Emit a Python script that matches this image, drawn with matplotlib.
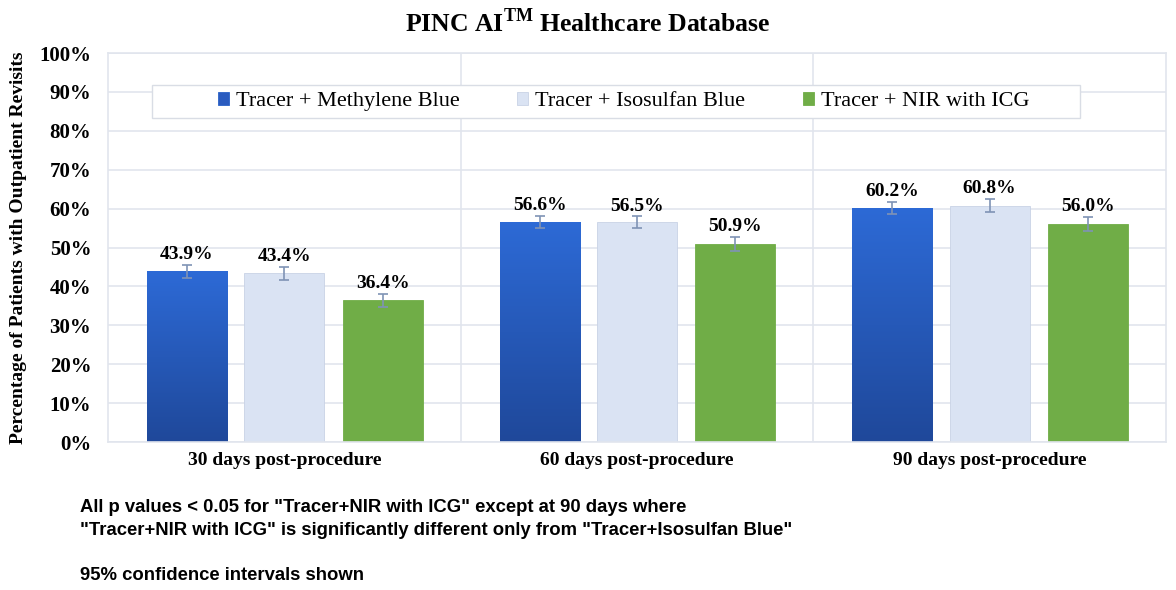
import matplotlib.pyplot as plt
import numpy as np
from matplotlib.patches import Rectangle
from matplotlib.ticker import FixedLocator, PercentFormatter

plt.rcParams['font.family'] = ['Liberation Serif', 'DejaVu Serif']
plt.rcParams['mathtext.fontset'] = 'custom'
plt.rcParams['mathtext.rm'] = 'Liberation Serif'
plt.rcParams['mathtext.bf'] = 'Liberation Serif:bold'

categories = ["30 days post-procedure", "60 days post-procedure", "90 days post-procedure"]
series = ["Tracer + Methylene Blue", "Tracer + Isosulfan Blue", "Tracer + NIR with ICG"]
methylene = [43.9, 56.6, 60.2]
isosulfan = [43.4, 56.5, 60.8]
nir_icg = [36.4, 50.9, 56.0]
methylene_ci = [1.6, 1.6, 1.6]
isosulfan_ci = [1.7, 1.5, 1.6]
nir_icg_ci = [1.7, 1.8, 1.8]

colors = ["#2A63C8", "#DAE3F3", "#70AD47"]
grid_c = "#E1E5ED"

fig = plt.figure(figsize=(11.76, 5.9), dpi=100)
ax = fig.add_axes([0.0918, 0.2508, 0.8997, 0.6592])

x = np.arange(len(categories))
width = 0.227
offsets = [-0.276, 0.0, 0.279]
values = [methylene, isosulfan, nir_icg]
errs = [methylene_ci, isosulfan_ci, nir_icg_ci]

ax.set_xlim(-0.5, 2.5)
ax.set_ylim(0, 100)

for vals, err, off, col, name in zip(values, errs, offsets, colors, series):
    bars = ax.bar(x + off, vals, width, color=col, label=name, zorder=2,
                  edgecolor="#C9D3E6" if col == "#DAE3F3" else col, linewidth=0.6)
    ax.errorbar(x + off, vals, yerr=err, fmt='none', ecolor="#7F93B5",
                elinewidth=1.2, capsize=3.5, capthick=1.2, zorder=3)
    for b, v, e in zip(bars, vals, err):
        ax.text(b.get_x() + b.get_width() / 2, v + e + 0.5, f"{v:.1f}%",
                ha='center', va='bottom', fontsize=14, fontweight='bold')
    if name == series[0]:
        # vertical shading on the methylene blue bars
        grad = np.linspace(0, 1, 256).reshape(-1, 1)
        cmap = plt.matplotlib.colors.LinearSegmentedColormap.from_list(
            "mb", ["#1F489A", "#2D6AD6"])
        for b in bars:
            b.set_facecolor('none')
            im = ax.imshow(grad, cmap=cmap, origin='lower', aspect='auto',
                           extent=[b.get_x(), b.get_x() + b.get_width(), 0, b.get_height()],
                           zorder=2)
            im.set_clip_path(b)

ax.set_xlim(-0.5, 2.5)
ax.set_ylim(0, 100)
ax.set_xticks(x)
ax.set_xticklabels(categories, fontsize=14, fontweight='bold')
ax.xaxis.set_minor_locator(FixedLocator([0.5, 1.5]))
ax.set_yticks(np.arange(0, 101, 10))
ax.yaxis.set_major_formatter(PercentFormatter(decimals=0))
for lab in ax.get_yticklabels():
    lab.set_fontweight('bold')
    lab.set_fontsize(15)
ax.tick_params(axis='both', which='both', length=0)
ax.tick_params(axis='y', pad=12)
ax.tick_params(axis='x', pad=7)
ax.grid(axis='y', color=grid_c, linewidth=1.2, zorder=0)
ax.grid(axis='x', which='minor', color=grid_c, linewidth=1.2, zorder=0)
for s in ax.spines.values():
    s.set_color(grid_c)
    s.set_linewidth(1.2)

ax.set_ylabel("Percentage of Patients with Outpatient Revisits", fontsize=14,
              fontweight='bold', labelpad=9)

# legend box is wider than its entries, so draw the frame separately
ax.add_patch(Rectangle((0.0416, 0.833), 0.877, 0.085, transform=ax.transAxes,
                       facecolor='white', edgecolor="#D9DDE5", linewidth=1.0, zorder=4))
leg = ax.legend(loc='center left', bbox_to_anchor=(0.104, 0.8755), ncol=3,
                fontsize=16, frameon=False,
                handlelength=0.5, handleheight=0.5, handletextpad=0.3,
                columnspacing=2.6, borderpad=0, borderaxespad=0)
leg.set_zorder(5)
leg.legend_handles[0].set_facecolor("#2A5BBF")

fig.text(0.5, 0.962, r"PINC AI$^{\mathbf{TM}}$ Healthcare Database", ha='center',
         va='center', fontsize=18.5, fontweight='bold')

note_font = ['Liberation Sans', 'DejaVu Sans']
fig.text(0.068, 0.14, "All p values < 0.05 for \"Tracer+NIR with ICG\" except at 90 days where",
         fontsize=13.3, fontweight='bold', family=note_font, va='center')
fig.text(0.068, 0.101, "\"Tracer+NIR with ICG\" is significantly different only from \"Tracer+Isosulfan Blue\"",
         fontsize=13.3, fontweight='bold', family=note_font, va='center')
fig.text(0.068, 0.025, "95% confidence intervals shown",
         fontsize=13.3, fontweight='bold', family=note_font, va='center')

fig.savefig("out.png", dpi=100, facecolor='white')
